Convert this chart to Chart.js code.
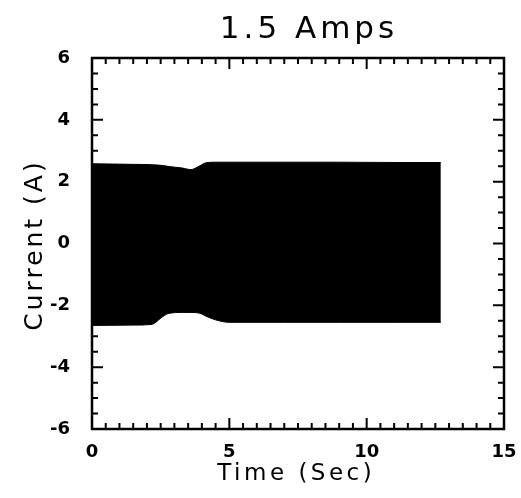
<html>
<head>
<script src="https://cdn.jsdelivr.net/npm/chart.js"></script>
<style>
  body { margin: 0; background: #ffffff; }
  #wrap { width: 521px; height: 498px; }
</style>
</head>
<body>
<div id="wrap"><canvas id="myChart"></canvas></div>
<script>
const titleText = '1.5 Amps';
const xTitle = 'Time (Sec)';
const yTitle = 'Current (A)';

// envelope of the (dense, solid black) current trace
const times = [0, 1.5, 2.15, 2.6, 2.8, 3.3, 3.6, 3.9, 4.15, 4.5, 5.0, 7.0, 9.0, 11.0, 12.7];
const upper = [2.58, 2.56, 2.55, 2.52, 2.49, 2.44, 2.39, 2.50, 2.61, 2.63, 2.63, 2.63, 2.63, 2.62, 2.62];
const lower = [-2.65, -2.64, -2.62, -2.35, -2.26, -2.23, -2.23, -2.25, -2.35, -2.47, -2.55, -2.55, -2.55, -2.55, -2.55];

const xTicks = [0, 5, 10, 15];
const yTicks = [-6, -4, -2, 0, 2, 4, 6];
const minorStep = 0.5;

function spacedText(ctx, text, x, y, spacing) {
    // canvas adds the spacing after the last glyph too, so pull back half of it
    ctx.letterSpacing = spacing + 'px';
    ctx.fillText(text, x - spacing / 2, y);
    ctx.letterSpacing = '0px';
}

const framePlugin = {
    id: 'frame',
    afterDraw(chart) {
        const { ctx, chartArea: a, scales: { x, y } } = chart;
        ctx.save();
        ctx.strokeStyle = '#000';
        ctx.lineWidth = 2;
        ctx.beginPath();
        // inward ticks on all four sides
        for (let v = x.min; v <= x.max + 1e-9; v += minorStep) {
            const px = x.getPixelForValue(v);
            const len = xTicks.includes(v) ? 11 : 6;
            ctx.moveTo(px, a.bottom); ctx.lineTo(px, a.bottom - len);
            ctx.moveTo(px, a.top); ctx.lineTo(px, a.top + len);
        }
        for (let v = y.min; v <= y.max + 1e-9; v += minorStep) {
            const py = y.getPixelForValue(v);
            const len = yTicks.includes(v) ? 11 : 6;
            ctx.moveTo(a.left, py); ctx.lineTo(a.left + len, py);
            ctx.moveTo(a.right, py); ctx.lineTo(a.right - len, py);
        }
        ctx.stroke();
        ctx.lineWidth = 2.5;
        ctx.strokeRect(a.left, a.top, a.right - a.left, a.bottom - a.top);

        // titles
        ctx.fillStyle = '#000';
        ctx.textAlign = 'center';
        ctx.textBaseline = 'alphabetic';
        ctx.font = '31px "DejaVu Sans"';
        spacedText(ctx, titleText, 311, 38, 4);
        ctx.font = '23px "DejaVu Sans"';
        spacedText(ctx, xTitle, (a.left + a.right) / 2, 480, 3.5);
        ctx.save();
        ctx.translate(42, (a.top + a.bottom) / 2);
        ctx.rotate(-Math.PI / 2);
        ctx.font = '25px "DejaVu Sans"';
        spacedText(ctx, yTitle, 0, 0, 3);
        ctx.restore();
        ctx.restore();
    }
};

const data = {
    datasets: [
        {
            data: times.map((t, i) => ({ x: t, y: upper[i] })),
            borderColor: '#000',
            backgroundColor: '#000',
            borderWidth: 1,
            pointRadius: 0,
            cubicInterpolationMode: 'monotone',
            fill: '+1'
        },
        {
            data: times.map((t, i) => ({ x: t, y: lower[i] })),
            borderColor: '#000',
            backgroundColor: '#000',
            borderWidth: 1,
            pointRadius: 0,
            cubicInterpolationMode: 'monotone',
            fill: false
        }
    ]
};

const config = {
    type: 'line',
    data: data,
    options: {
        responsive: true,
        maintainAspectRatio: false,
        animation: false,
        layout: { padding: { top: 58, right: 17, left: 0, bottom: 0 } },
        plugins: {
            legend: { display: false },
            tooltip: { enabled: false },
            title: { display: false }
        },
        scales: {
            x: {
                type: 'linear',
                min: 0,
                max: 15,
                grid: { display: false, drawTicks: false },
                border: { display: false },
                afterBuildTicks: s => { s.ticks = xTicks.map(v => ({ value: v })); },
                afterFit: s => { s.height = 69; s.paddingLeft = 0; s.paddingRight = 0; },
                ticks: {
                    color: '#000',
                    padding: 13,
                    maxRotation: 0,
                    autoSkip: false,
                    font: { family: 'DejaVu Sans', size: 18, weight: 'bold' }
                }
            },
            y: {
                min: -6,
                max: 6,
                grid: { display: false, drawTicks: false },
                border: { display: false },
                afterBuildTicks: s => { s.ticks = yTicks.map(v => ({ value: v })); },
                afterFit: s => { s.width = 92; s.paddingTop = 0; s.paddingBottom = 0; },
                ticks: {
                    color: '#000',
                    padding: 22,
                    autoSkip: false,
                    font: { family: 'DejaVu Sans', size: 18, weight: 'bold' }
                }
            }
        }
    },
    plugins: [framePlugin]
};

const myChart = new Chart(document.getElementById('myChart'), config);
</script>
</body>
</html>
